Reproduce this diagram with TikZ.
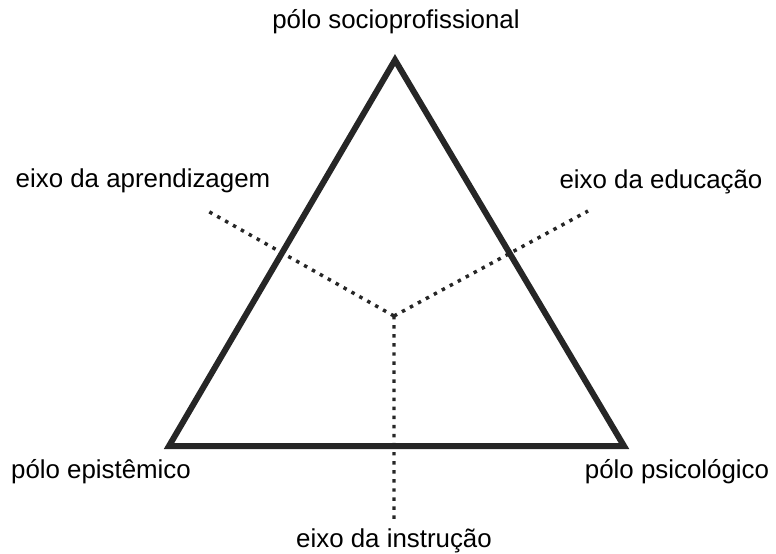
\documentclass[tikz,border=0pt]{standalone}
\usepackage{fontspec}
\setmainfont{Liberation Sans}
\usetikzlibrary{positioning}

\tikzset{
    rotulo/.style={inner sep=0pt, font=\fontsize{19.4}{23}\selectfont},
    lado/.style={line width=4.5pt, color=black!85, line join=miter},
    eixo/.style={line width=2.6pt, color=black!85, dash pattern=on 2.6pt off 4.2pt}
}

\begin{document}
\begin{tikzpicture}[x=0.75pt, y=-0.75pt]
                    \useasboundingbox (0, 0) rectangle (776, 554);

                    \coordinate (socio) at (395, 60);
                    \coordinate (epist) at (169, 446);
                    \coordinate (psico) at (624, 446);
                    \coordinate (centro) at (394, 316);
                    \coordinate (fimaprend) at (206, 210);
                    \coordinate (fimeduc) at (588, 211);
                    \coordinate (fiminstr) at (394, 524);

                    \node[rotulo] (psocio) at (396, 22) {pólo socioprofissional};
                    \node[rotulo] (paprend) at (143, 181) {eixo da aprendizagem};
                    \node[rotulo] (peduc) at (661, 182) {eixo da educação};
                    \node[rotulo] (pepist) at (101, 472) {pólo epistêmico};
                    \node[rotulo] (ppsico) at (677, 472) {pólo psicológico};
                    \node[rotulo] (pinstr) at (394, 541) {eixo da instrução};

                    \draw[lado] (socio) -- (psico) -- (epist) -- cycle;

                    \draw[eixo]
                    (centro) -- (fimaprend)
                    (centro) -- (fimeduc)
                    (centro) -- (fiminstr);
                \end{tikzpicture}
\end{document}
